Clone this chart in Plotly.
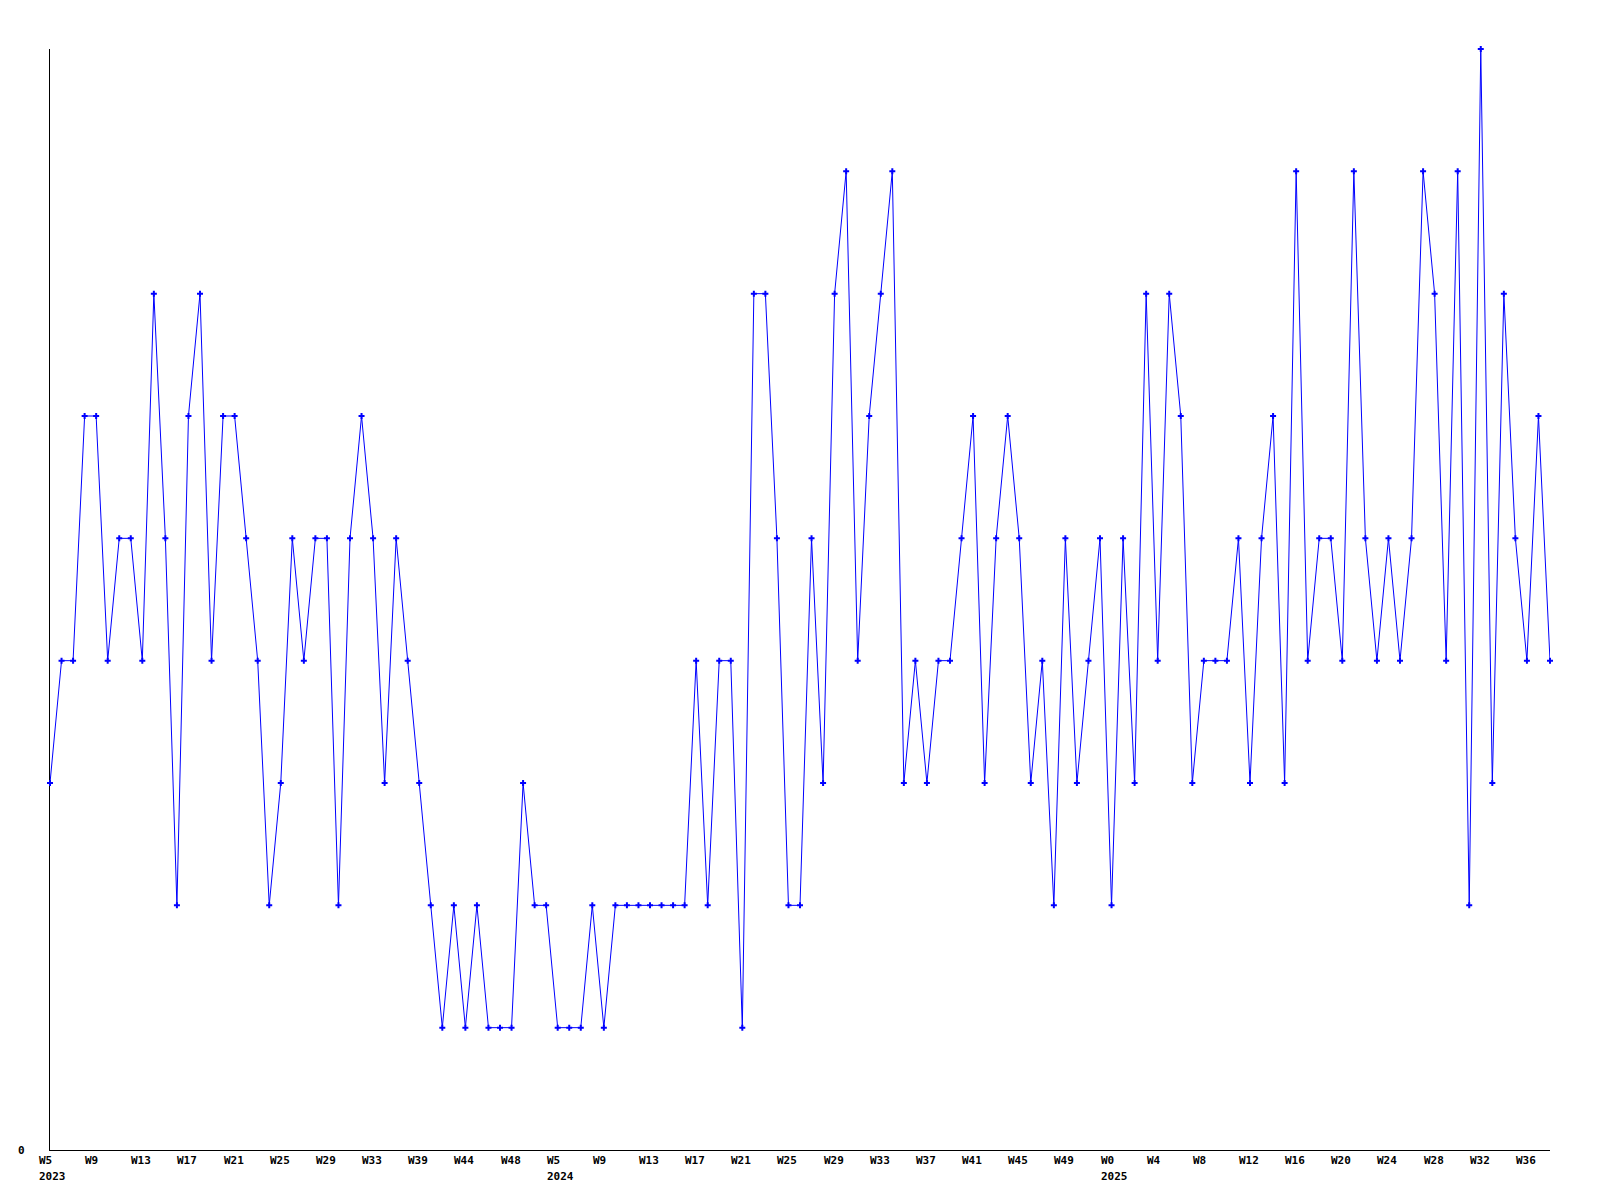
import plotly.graph_objects as go

values = [
    3, 4, 4, 6, 6, 4, 5, 5, 4, 7, 5, 2, 6, 7, 4, 6, 6, 5, 4, 2,
    3, 5, 4, 5, 5, 2, 5, 6, 5, 3, 5, 4, 3, 2, 1, 2, 1, 2, 1, 1,
    1, 3, 2, 2, 1, 1, 1, 2, 1, 2, 2, 2, 2, 2, 2, 2, 4, 2, 4, 4,
    1, 7, 7, 5, 2, 2, 5, 3, 7, 8, 4, 6, 7, 8, 3, 4, 3, 4, 4, 5,
    6, 3, 5, 6, 5, 3, 4, 2, 5, 3, 4, 5, 2, 5, 3, 7, 4, 7, 6, 3,
    4, 4, 4, 5, 3, 5, 6, 3, 8, 4, 5, 5, 4, 8, 5, 4, 5, 4, 5, 8,
    7, 4, 8, 2, 9, 3, 7, 5, 4, 6, 4,
]

tick_labels = [
    "W5", "W9", "W13", "W17", "W21", "W25", "W29", "W33", "W39", "W44", "W48",
    "W5", "W9", "W13", "W17", "W21", "W25", "W29", "W33", "W37", "W41", "W45", "W49",
    "W0", "W4", "W8", "W12", "W16", "W20", "W24", "W28", "W32", "W36",
]
year_labels = {0: "2023", 11: "2024", 23: "2025"}
tick_step = 4

x = list(range(len(values)))

font = dict(family="DejaVu Sans Mono", size=11, color="black", weight="bold")

fig = go.Figure()
fig.add_trace(go.Scatter(
    x=x, y=values, mode="lines+markers",
    line=dict(color="#0000ff", width=1),
    marker=dict(symbol="cross", size=5, color="#0000ff", line=dict(width=0)),
    cliponaxis=False, showlegend=False, hoverinfo="x+y",
))

annotations = []
for i, lab in enumerate(tick_labels):
    annotations.append(dict(
        x=i * tick_step, y=0, xref="x", yref="paper",
        text=lab, showarrow=False, xanchor="left", yanchor="top",
        align="left", xshift=-13, yshift=-2, font=font,
    ))
    if i in year_labels:
        annotations.append(dict(
            x=i * tick_step, y=0, xref="x", yref="paper",
            text=year_labels[i], showarrow=False, xanchor="left", yanchor="top",
            align="left", xshift=-13, yshift=-18, font=font,
        ))
annotations.append(dict(
    x=0, y=0, xref="paper", yref="y", text="0", showarrow=False,
    xanchor="right", yanchor="middle", xshift=-23, font=font,
))

fig.update_layout(
    width=1584, height=1184,
    margin=dict(l=42, r=42, t=41, b=42),
    paper_bgcolor="white", plot_bgcolor="white",
    xaxis=dict(range=[0, len(values) - 1], showgrid=False, zeroline=False,
               showline=True, linecolor="black", linewidth=1,
               showticklabels=False, ticks="", layer="below traces"),
    yaxis=dict(range=[0, 9], showgrid=False, zeroline=False,
               showline=True, linecolor="black", linewidth=1,
               showticklabels=False, ticks="", layer="below traces"),
    annotations=annotations,
)

fig.write_html("out.html")
